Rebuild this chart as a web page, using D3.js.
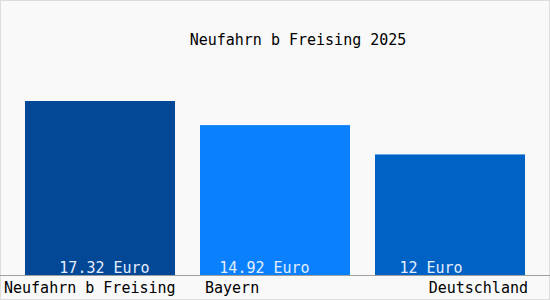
<!DOCTYPE html>
<html lang="de">
<head>
<meta charset="UTF-8" />
<title>Neufahrn b Freising 2025</title>
<script src="https://d3js.org/d3.v7.min.js"></script>
<style>
  body { margin: 0; background: #ffffff; }
  text { font-family: "DejaVu Sans Mono", monospace; }
</style>
</head>
<body>
<svg></svg>
<script>
var regions = ["Neufahrn b Freising", "Bayern", "Deutschland"];
var values = [17.32, 14.92, 12];
var valueLabels = ["17.32 Euro", "14.92 Euro", "12 Euro"];
var colors = ["#034896", "#0a80fd", "#0062c4"];
var title = "Neufahrn b Freising 2025";

var width = 550, height = 300;
var baseY = 275;

var svg = d3.select("svg").attr("width", width).attr("height", height);

svg.append("rect")
  .attr("x", 0.5).attr("y", 0.5)
  .attr("width", width - 1).attr("height", height - 1)
  .style("fill", "#f9f9f9")
  .style("stroke", "#dddddd");

var x = d3.scaleBand()
  .domain(d3.range(regions.length))
  .range([12.5, 537.5])
  .paddingInner(1 / 7)
  .paddingOuter(1 / 14);

var y = d3.scaleLinear()
  .domain([0, 17.32])
  .range([baseY, 101]);

svg.append("text")
  .attr("x", 298)
  .attr("y", 45)
  .attr("text-anchor", "middle")
  .style("font-size", "15px")
  .style("fill", "#000")
  .text(title);

svg.append("g")
  .selectAll("rect")
  .data(values)
  .join("rect")
  .attr("x", (d, i) => x(i))
  .attr("y", (d) => y(d))
  .attr("width", x.bandwidth())
  .attr("height", (d) => baseY - y(d))
  .style("fill", (d, i) => colors[i]);

// value labels sit inside the bars near the bottom
var labelShift = [4.5, -10.5, -19];
svg.append("g")
  .selectAll("text")
  .data(valueLabels)
  .join("text")
  .attr("x", (d, i) => x(i) + x.bandwidth() / 2 + labelShift[i])
  .attr("y", baseY - 2)
  .attr("text-anchor", "middle")
  .style("font-size", "15px")
  .style("fill", "#e4eeff")
  .text((d) => d);

svg.append("line")
  .attr("x1", 0).attr("x2", width)
  .attr("y1", baseY + 0.5).attr("y2", baseY + 0.5)
  .style("stroke", "#a0a0a0");

// category labels: first from the left edge, middle from its bar, last to its bar end
svg.append("g")
  .selectAll("text")
  .data(regions)
  .join("text")
  .attr("x", (d, i) => i === 0 ? 4 : i === regions.length - 1 ? x(i) + x.bandwidth() + 3 : x(i) + 5)
  .attr("y", 293)
  .attr("text-anchor", (d, i) => i === regions.length - 1 ? "end" : "start")
  .style("font-size", "15px")
  .style("fill", "#000")
  .text((d) => d);
</script>
</body>
</html>
